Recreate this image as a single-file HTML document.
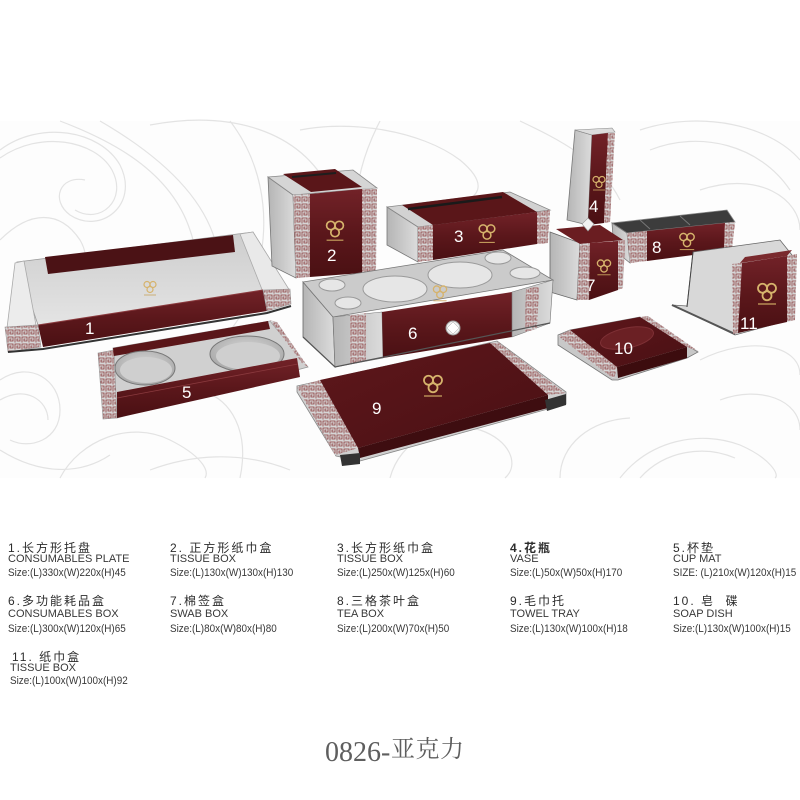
<!DOCTYPE html>
<html><head><meta charset="utf-8">
<style>
html,body{margin:0;padding:0;background:#fff;}
body{width:800px;height:800px;position:relative;overflow:hidden;font-family:"Liberation Sans","Noto Sans CJK SC",sans-serif;color:#333;}
svg{position:absolute;left:0;top:0;}
.t{position:absolute;white-space:nowrap;}
.h{font-size:12px;line-height:12px;letter-spacing:2px;color:#2c2c2c;}
.e{font-size:11px;line-height:11px;color:#383838;}
.s{font-size:11px;line-height:11px;color:#383838;transform:scaleX(0.9);transform-origin:0 0;}
.n{font-family:"Liberation Sans",sans-serif;font-size:17px;fill:#fff;}
</style></head><body>
<svg width="800" height="800" viewBox="0 0 800 800">
<defs>
<pattern id="gk" width="7" height="7" patternUnits="userSpaceOnUse"><rect width="7" height="7" fill="#d6d6d6"/><path d="M1,6.5V1H6V5H3V3H4.5" fill="none" stroke="#8a3a3c" stroke-width="0.8"/></pattern>
<linearGradient id="mr" x1="0" y1="0" x2="0" y2="1"><stop offset="0" stop-color="#722228"/><stop offset="0.5" stop-color="#5b171b"/><stop offset="1" stop-color="#4a1013"/></linearGradient>
<linearGradient id="mrd" x1="0" y1="0" x2="1" y2="1"><stop offset="0" stop-color="#5e171b"/><stop offset="1" stop-color="#4a1014"/></linearGradient>
<linearGradient id="glv" x1="0" y1="0" x2="1" y2="0"><stop offset="0" stop-color="#b5b5b5"/><stop offset="1" stop-color="#dcdcdc"/></linearGradient>
<linearGradient id="floor" x1="0" y1="0" x2="0" y2="1"><stop offset="0" stop-color="#cdcdcd"/><stop offset="1" stop-color="#e4e4e4"/></linearGradient>
<radialGradient id="disc" cx="0.5" cy="0.4" r="0.6"><stop offset="0" stop-color="#d8d8d8"/><stop offset="1" stop-color="#a8a8a8"/></radialGradient>
<g id="logo"><circle cx="-3" cy="-2.5" r="3" fill="none" stroke="#d6b36c" stroke-width="1.2"/><circle cx="3" cy="-2.5" r="3" fill="none" stroke="#d6b36c" stroke-width="1.2"/><circle cx="0" cy="2.5" r="3" fill="none" stroke="#d6b36c" stroke-width="1.2"/><line x1="-6" y1="8" x2="6" y2="8" stroke="#c9a560" stroke-width="0.8"/></g>
</defs>
<rect x="0" y="121" width="800" height="357" fill="#fdfdfd"/>
<g fill="none" stroke="#e3e3e3" stroke-width="1.2">
<path d="M0,150 C40,120 100,130 120,165 C140,205 100,235 70,215 C50,200 60,175 85,180"/>
<path d="M0,158 C40,130 95,140 112,170 C128,200 100,225 75,210"/>
<path d="M60,121 C110,140 170,170 190,230 C205,270 180,300 150,305"/>
<path d="M100,121 C150,150 200,190 215,240"/>
<path d="M0,240 C30,210 60,210 80,240 C95,265 80,300 50,310"/>
<path d="M150,125 C230,110 300,130 330,190 C345,225 330,260 310,270"/>
<path d="M230,121 C260,160 270,210 260,260 C255,290 240,320 230,330"/>
<path d="M300,130 C350,120 420,130 460,160 C490,185 480,200 450,205"/>
<path d="M380,121 C360,160 350,200 360,240"/>
<path d="M520,121 C560,140 600,160 620,200"/>
<path d="M640,130 C700,110 770,125 800,160"/>
<path d="M650,150 C700,130 760,145 790,190"/>
<path d="M700,190 C760,170 800,200 800,230"/>
<path d="M0,380 C30,360 60,380 60,410 C60,440 30,450 10,440"/>
<path d="M0,400 C25,385 48,400 48,420"/>
<path d="M0,450 C40,475 80,475 110,455"/>
<path d="M60,478 C80,440 130,420 170,440 C200,455 210,470 205,478"/>
<path d="M150,470 C190,455 240,450 290,470"/>
<path d="M390,478 C400,440 440,420 480,430 C510,440 520,465 505,478"/>
<path d="M560,478 C560,445 590,420 630,418"/>
<path d="M620,478 C650,440 700,430 740,445 C770,458 780,475 775,478"/>
<path d="M640,478 C665,450 705,445 735,458"/>
<path d="M700,360 C750,335 800,345 800,375"/>
<path d="M720,400 C760,385 800,400 800,430"/>
<path d="M240,478 C250,430 230,400 205,392"/>
</g>

<!-- Tray 1 -->
<polygon points="17,262 253,232 290,292 38,325" fill="url(#floor)" stroke="#9a9a9a" stroke-width="0.8"/>
<polygon points="15,263 24,261 36,325 7,328" fill="#ececec" stroke="#aaa" stroke-width="0.8"/>
<polygon points="240,234 253,232 290,291 263,292" fill="#e9e9e9" stroke="#aaa" stroke-width="0.8"/>
<polygon points="45,257 233,235 235,252 48,274" fill="#4b1215"/>
<use href="#logo" transform="translate(150,287) scale(1)"/>
<polygon points="38,325 263,290 267,311 43,347" fill="url(#mr)"/>
<line x1="38" y1="325" x2="263" y2="290" stroke="#8a3a3e" stroke-width="1"/>
<polygon points="5,327 38,325 41,347 8,352" fill="url(#gk)" stroke="#999" stroke-width="0.6"/>
<polygon points="263,290 290,289 291,304 267,311" fill="url(#gk)" stroke="#999" stroke-width="0.6"/>
<polyline points="8,352 43,349 267,313 291,306" fill="none" stroke="#333" stroke-width="2"/>
<text class="n" x="85" y="334">1</text>

<!-- Box 2 -->
<polygon points="268,177 293,195 296,278 272,266" fill="url(#glv)" stroke="#777" stroke-width="0.8"/>
<polygon points="268,177 353,170 377,188 293,195" fill="#d5d5d5" stroke="#888" stroke-width="0.8"/>
<polygon points="283,174 335,169 362,187 311,192" fill="#5a1619"/>
<line x1="292" y1="177" x2="336" y2="173" stroke="#1e1e1e" stroke-width="2"/>
<polygon points="293,195 310,194 310,277 296,278" fill="url(#gk)"/>
<polygon points="310,194 362,189 362,273 310,277" fill="url(#mr)"/>
<polygon points="362,189 377,188 376,272 362,273" fill="url(#gk)"/>
<use href="#logo" transform="translate(335,229) scale(1.4)"/>
<text class="n" x="327" y="261">2</text>

<!-- Box 3 -->
<polygon points="387,207 418,227 418,262 387,245" fill="url(#glv)" stroke="#777" stroke-width="0.8"/>
<polygon points="387,207 510,192 550,210 418,227" fill="#d2d2d2" stroke="#888" stroke-width="0.8"/>
<polygon points="402,205 503,192 537,212 433,225" fill="#5a1619"/>
<line x1="408" y1="209" x2="502" y2="197" stroke="#1a1a1a" stroke-width="2.5"/>
<polygon points="418,227 433,225 433,260 418,262" fill="url(#gk)"/>
<polygon points="433,225 537,212 537,244 433,260" fill="url(#mr)"/>
<polygon points="537,212 550,210 548,243 537,244" fill="url(#gk)"/>
<use href="#logo" transform="translate(487,232) scale(1.3)"/>
<text class="n" x="454" y="242">3</text>

<!-- Vase 4 -->
<polygon points="575,130 592,135 588,225 567,220" fill="url(#glv)" stroke="#777" stroke-width="0.8"/>
<polygon points="575,130 612,128 615,132 592,135" fill="#ddd" stroke="#888" stroke-width="0.6"/>
<polygon points="592,135 608,133 604,223 588,225" fill="url(#mr)"/>
<polygon points="608,133 615,132 610,222 604,223" fill="url(#gk)"/>
<use href="#logo" transform="translate(599,182) scale(1)"/>
<text class="n" x="589" y="212">4</text>

<!-- Box 8 -->
<polygon points="612,223 727,210 735,222 627,233" fill="#3c3c3c" stroke="#888" stroke-width="0.8"/>
<line x1="650" y1="229" x2="640" y2="220" stroke="#777" stroke-width="1"/>
<line x1="690" y1="225" x2="680" y2="216" stroke="#777" stroke-width="1"/>
<polygon points="612,223 627,233 630,263 614,250" fill="url(#glv)" stroke="#777" stroke-width="0.8"/>
<polygon points="627,233 647,231 647,261 630,263" fill="url(#gk)"/>
<polygon points="647,231 725,223 724,251 647,261" fill="url(#mr)"/>
<polygon points="725,223 735,222 732,250 724,251" fill="url(#gk)"/>
<use href="#logo" transform="translate(687,240) scale(1.2)"/>
<text class="n" x="652" y="253">8</text>

<!-- Box 7 -->
<polygon points="550,232 580,243 577,300 550,292" fill="url(#glv)" stroke="#666" stroke-width="0.8"/>
<polygon points="556,229 600,225 623,240 580,244" fill="#6a1d21"/>
<polygon points="580,244 590,243 589,300 577,300" fill="url(#gk)"/>
<polygon points="590,243 618,241 618,290 589,300" fill="url(#mr)"/>
<polygon points="618,241 625,240 623,288 618,290" fill="url(#gk)"/>
<polygon points="588,218 594,224 588,231 582,224" fill="#f2f2f2" stroke="#999" stroke-width="0.6"/>
<use href="#logo" transform="translate(604,266) scale(1.1)"/>
<text class="n" x="586" y="291">7</text>

<!-- Box 11 -->
<polygon points="693,252 780,240 792,255 790,320 735,335 672,305 687,306" fill="#d8d8d8" stroke="#666" stroke-width="0.8"/>
<line x1="693" y1="252" x2="687" y2="307" stroke="#444" stroke-width="1"/>
<line x1="672" y1="305" x2="735" y2="334" stroke="#555" stroke-width="2"/>
<polygon points="740,263 745,257 792,250 787,256" fill="#7a2a2e"/>
<polygon points="732,264 742,263 738,333 733,334" fill="url(#gk)"/>
<polygon points="742,263 787,256 787,322 738,333" fill="url(#mr)"/>
<polygon points="787,256 797,254 795,320 787,322" fill="url(#gk)"/>
<use href="#logo" transform="translate(767,292) scale(1.5)"/>
<text class="n" x="740" y="329">11</text>

<!-- Box 6 -->
<polygon points="303,282 333,317 335,367 303,337" fill="url(#glv)" stroke="#666" stroke-width="0.8"/>
<polygon points="303,282 503,250 553,280 333,317" fill="#cbcbcb" stroke="#777" stroke-width="0.8"/>
<ellipse cx="395" cy="289" rx="32" ry="13" fill="#e6e6e6" stroke="#9a9a9a"/>
<ellipse cx="460" cy="275" rx="32" ry="13" fill="#e6e6e6" stroke="#9a9a9a"/>
<ellipse cx="332" cy="285" rx="13" ry="6" fill="#e6e6e6" stroke="#9a9a9a"/>
<ellipse cx="348" cy="303" rx="13" ry="6" fill="#e6e6e6" stroke="#9a9a9a"/>
<ellipse cx="498" cy="258" rx="13" ry="6" fill="#e6e6e6" stroke="#9a9a9a"/>
<ellipse cx="525" cy="273" rx="15" ry="6" fill="#e6e6e6" stroke="#9a9a9a"/>
<use href="#logo" transform="translate(440,292) scale(1.1)"/>
<polygon points="333,317 382,312 383,358 335,367" fill="url(#glv)" stroke="#777" stroke-width="0.6"/>
<polygon points="350,315 366,313 366,361 350,364" fill="url(#gk)"/>
<polygon points="382,312 512,292 512,337 383,358" fill="url(#mr)"/>
<polygon points="512,292 553,280 550,323 512,337" fill="url(#glv)" stroke="#777" stroke-width="0.6"/>
<polygon points="526,289 539,286 537,329 525,332" fill="url(#gk)"/>
<polyline points="303,337 335,367 550,323" fill="none" stroke="#555" stroke-width="1.2"/>
<circle cx="453" cy="328" r="7" fill="#eee" stroke="#999"/>
<polygon points="453,322 459,328 453,334 447,328" fill="#fff" stroke="#aaa" stroke-width="0.5"/>
<text class="n" x="408" y="339">6</text>

<!-- Cup mat 5 -->
<polygon points="113,348 270,321 308,367 117,418" fill="#d0d0d0" stroke="#999" stroke-width="0.8"/>
<polygon points="98,353 114,350 117,418 103,419" fill="url(#gk)" stroke="#999" stroke-width="0.6"/>
<polygon points="270,320 277,322 308,367 302,363" fill="url(#gk)"/>
<polygon points="113,348 268,321 270,329 114,356" fill="#5a1619"/>
<ellipse cx="145" cy="368" rx="30" ry="17" fill="url(#disc)" stroke="#777"/>
<ellipse cx="146" cy="370" rx="26" ry="13" fill="#cfcfcf"/>
<ellipse cx="247" cy="354" rx="37" ry="18" fill="url(#disc)" stroke="#777"/>
<ellipse cx="248" cy="356" rx="32" ry="14" fill="#cfcfcf"/>
<polygon points="117,392 297,358 300,377 117,418" fill="url(#mr)"/>
<line x1="117" y1="398" x2="298" y2="364" stroke="#8a3a3e" stroke-width="0.8"/>
<text class="n" x="182" y="398">5</text>

<!-- Soap dish 10 -->
<polygon points="558,335 570,330 640,317 698,352 687,358 618,380 612,380 558,345" fill="#c8c8c8" stroke="#777" stroke-width="0.8"/>
<polygon points="558,336 570,330 617,367 614,379" fill="url(#gk)"/>
<polygon points="640,317 648,316 698,351 687,347" fill="url(#gk)"/>
<polygon points="570,330 640,317 687,347 617,367" fill="url(#mrd)"/>
<polygon points="617,367 687,347 687,358 618,378" fill="#3c0c0e"/>
<ellipse cx="627" cy="338" rx="27" ry="10" transform="rotate(-12 627 338)" fill="#6b2024" stroke="#7e3035"/>
<text class="n" x="614" y="354">10</text>

<!-- Tray 9 -->
<polygon points="297,386 497,341 566,392 566,404 360,461 336,456 297,392" fill="#d0d0d0" stroke="#888" stroke-width="0.8"/>
<polygon points="297,387 320,380 358,448 335,455" fill="url(#gk)"/>
<polygon points="490,343 498,342 565,393 548,395" fill="url(#gk)"/>
<polygon points="320,380 490,343 548,395 358,448" fill="url(#mrd)"/>
<polygon points="358,448 548,395 548,408 360,458" fill="#3e0d10"/>
<polygon points="340,455 360,453 360,464 342,466" fill="#333"/>
<polygon points="545,400 566,394 566,405 547,411" fill="#333"/>
<use href="#logo" transform="translate(433,384) scale(1.5)"/>
<text class="n" x="372" y="414">9</text>
</svg>

<div class="t h" style="left:8px;top:541.5px">1.长方形托盘</div>
<div class="t e" style="left:8px;top:554px">CONSUMABLES PLATE</div>
<div class="t s" style="left:8px;top:568px">Size:(L)330x(W)220x(H)45</div>

<div class="t h" style="left:170px;top:541.5px">2. 正方形纸巾盒</div>
<div class="t e" style="left:170px;top:554px">TISSUE BOX</div>
<div class="t s" style="left:170px;top:568px">Size:(L)130x(W)130x(H)130</div>

<div class="t h" style="left:337px;top:541.5px">3.长方形纸巾盒</div>
<div class="t e" style="left:337px;top:554px">TISSUE BOX</div>
<div class="t s" style="left:337px;top:568px">Size:(L)250x(W)125x(H)60</div>

<div class="t h" style="left:510px;top:541.5px;font-weight:bold">4.花瓶</div>
<div class="t e" style="left:510px;top:554px">VASE</div>
<div class="t s" style="left:510px;top:568px">Size:(L)50x(W)50x(H)170</div>

<div class="t h" style="left:673px;top:541.5px">5.杯垫</div>
<div class="t e" style="left:673px;top:554px">CUP MAT</div>
<div class="t s" style="left:673px;top:568px">SIZE: (L)210x(W)120x(H)15</div>

<div class="t h" style="left:8px;top:595px">6.多功能耗品盒</div>
<div class="t e" style="left:8px;top:609px">CONSUMABLES BOX</div>
<div class="t s" style="left:8px;top:623.5px">Size:(L)300x(W)120x(H)65</div>

<div class="t h" style="left:170px;top:595px">7.棉签盒</div>
<div class="t e" style="left:170px;top:609px">SWAB BOX</div>
<div class="t s" style="left:170px;top:623.5px">Size:(L)80x(W)80x(H)80</div>

<div class="t h" style="left:337px;top:595px">8.三格茶叶盒</div>
<div class="t e" style="left:337px;top:609px">TEA BOX</div>
<div class="t s" style="left:337px;top:623.5px">Size:(L)200x(W)70x(H)50</div>

<div class="t h" style="left:510px;top:595px">9.毛巾托</div>
<div class="t e" style="left:510px;top:609px">TOWEL TRAY</div>
<div class="t s" style="left:510px;top:623.5px">Size:(L)130x(W)100x(H)18</div>

<div class="t h" style="left:673px;top:595px">10. 皂&nbsp;&nbsp;碟</div>
<div class="t e" style="left:673px;top:609px">SOAP DISH</div>
<div class="t s" style="left:673px;top:623.5px">Size:(L)130x(W)100x(H)15</div>

<div class="t h" style="left:12px;top:650.5px">11. 纸巾盒</div>
<div class="t e" style="left:10px;top:662.5px">TISSUE BOX</div>
<div class="t s" style="left:10px;top:675.5px">Size:(L)100x(W)100x(H)92</div>

<div class="t" style="left:325px;top:738.5px;font-family:'Liberation Serif',serif;font-size:28px;line-height:28px;color:#5e5e5e">0826-</div>
<div class="t" style="left:391px;top:738px;font-family:'Liberation Serif','Noto Serif CJK SC',serif;font-size:24px;line-height:24px;color:#5e5e5e;letter-spacing:0.5px">亚克力</div>
</body></html>
